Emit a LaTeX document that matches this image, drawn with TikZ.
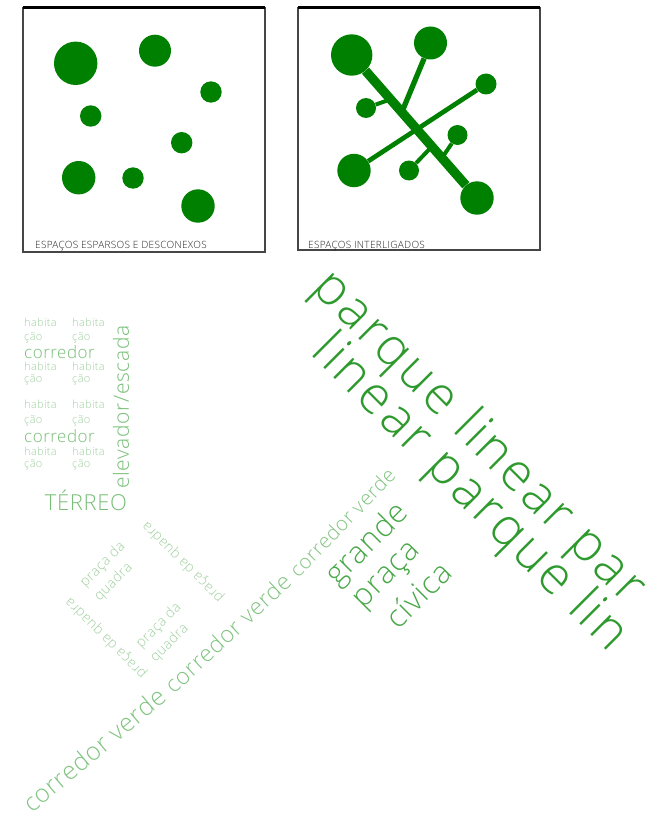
\documentclass[tikz,border=0pt]{standalone}
\usepackage{fontspec}
\IfFontExistsTF{Open Sans Light}
  {\setmainfont{Open Sans Light}[LetterSpace=3]}
  {\setmainfont{Open Sans}[LetterSpace=3]}
\usetikzlibrary{calc}

\definecolor{blobgreen}{RGB}{0,128,0}
\definecolor{parkgreen}{RGB}{46,154,46}
\definecolor{civicgreen}{RGB}{72,168,72}
\definecolor{pathgreen}{RGB}{128,196,128}
\definecolor{stackgreen}{RGB}{120,190,120}
\definecolor{habgreen}{RGB}{160,208,160}
\definecolor{framegray}{RGB}{70,70,70}

% font size given in pixels of the reference
\newcommand\pxfont[2]{\fontsize{\fpeval{0.8536*#1}pt}{\fpeval{0.8536*#2}pt}\selectfont}

\begin{document}
\begin{tikzpicture}[
    x=0.03cm, y=-0.03cm,
    blob/.style={circle, fill=blobgreen, inner sep=0pt, minimum size=#1*0.06cm},
    link/.style={draw=blobgreen, line width=#1},
    frame/.style={draw=framegray, line width=1.4pt},
    caption/.style={anchor=base west, inner sep=0pt, text=black!85, font=\pxfont{10}{12}},
    word/.style={inner sep=0pt, text=#1}
]
\useasboundingbox (0,0) rectangle (667,817);
\fill[white] (0,0) rectangle (667,817);

% two boxes
\draw[frame] (22.7,7.5) rectangle (265,252);
\draw[line width=2.5pt] (22.7,7.5) -- (265,7.5);
\draw[frame] (298,7.5) rectangle (540,250);
\draw[line width=2.5pt] (298,7.5) -- (540,7.5);

% sparse spaces
\node[blob=21.7] (s1) at (75.7,63.3) {};
\node[blob=16]   (s2) at (155,50.7) {};
\node[blob=10.7] (s3) at (211,92) {};
\node[blob=10.7] (s4) at (90.7,116) {};
\node[blob=10.7] (s5) at (181.7,142.7) {};
\node[blob=16.7] (s6) at (78.7,177.7) {};
\node[blob=10.7] (s7) at (133,178) {};
\node[blob=16.7] (s8) at (198,206) {};
\node[caption] (capL) at (35,248) {ESPAÇOS ESPARSOS E DESCONEXOS};

% linked spaces
\node[blob=20.7] (cA) at (351.7,55) {};
\node[blob=16.5] (cB) at (430.5,43) {};
\node[blob=10.5] (cC) at (486,84) {};
\node[blob=10]   (cD) at (366,108) {};
\node[blob=10]   (cE) at (457.5,135) {};
\node[blob=16.7] (cF) at (354,170.5) {};
\node[blob=10]   (cG) at (409,170.5) {};
\node[blob=16.7] (cH) at (477,198) {};
\coordinate (jB) at ($(cA)!0.40!(cH)$);
\coordinate (jD) at ($(cA)!0.31!(cH)$);
\coordinate (jG) at ($(cA)!0.64!(cH)$);
\coordinate (jE) at ($(cA)!0.72!(cH)$);
\draw[link=8pt] (cA) -- (cH);
\draw[link=4.5pt] (cB) -- (jB);
\draw[link=4pt] (cF) -- (cC);
\draw[link=3.4pt] (cD) -- (jD);
\draw[link=3.4pt] (cG) -- (jG);
\draw[link=3.4pt] (cE) -- (jE);
\node[caption] (capR) at (308,248) {ESPAÇOS INTERLIGADOS};

% building section
\foreach \r/\y in {1/322,2/366,3/404,4/451} {
  \node[word=habgreen, anchor=base west, font=\pxfont{11}{13}] (habA\r) at (24,\y+4) {habita};
  \node[word=habgreen, anchor=base west, font=\pxfont{11}{13}] (habB\r) at (72,\y+4) {habita};
}
\foreach \r/\y in {1/337,2/379,3/420,4/464} {
  \node[word=habgreen, anchor=base west, font=\pxfont{11}{13}] (caoA\r) at (24,\y+3) {ção};
  \node[word=habgreen, anchor=base west, font=\pxfont{11}{13}] (caoB\r) at (72,\y+3) {ção};
}
\node[word=stackgreen, anchor=base west, font=\pxfont{17}{20}] (cor1) at (24,358) {corredor};
\node[word=stackgreen, anchor=base west, font=\pxfont{17}{20}] (cor2) at (24,442) {corredor};
\node[word=stackgreen, rotate=90, font=\pxfont{21}{24}] (elev) at (121,407) {elevador/escada};
\node[word=stackgreen, font=\pxfont{22}{26}] (terreo) at (86,500) {TÉRREO};

% block squares
\node[word=habgreen, rotate=45, align=left, font=\pxfont{14}{20}] (pq1) at (110,572) {praça da\\quadra};
\node[word=habgreen, rotate=45, align=left, font=\pxfont{14}{20}] (pq2) at (166,633) {praça da\\quadra};
\node[word=habgreen, rotate=135, font=\pxfont{14}{18}] (pq3) at (183,562) {praça da quadra};
\node[word=habgreen, rotate=135, font=\pxfont{14}{18}] (pq4) at (106,638) {praça da quadra};

% green corridor
\node[word=pathgreen, rotate=40, anchor=base west, font=\pxfont{25}{30}] (cv1) at (32,814) {corredor verde\kern0.3em};
\node[word=pathgreen, rotate=43, anchor=base west, font=\pxfont{23}{28}] (cv2) at (cv1.base east) {corredor verde\kern0.3em};
\node[word=pathgreen, rotate=46, anchor=base west, font=\pxfont{20}{24}] (cv3) at (cv2.base east) {corredor verde};

% civic square
\node[word=civicgreen, rotate=45, font=\pxfont{31}{36}] (grande) at (368,545) {grande};
\node[word=civicgreen, rotate=45, font=\pxfont{31}{36}] (praca) at (389,577) {praça};
\node[word=civicgreen, rotate=45, font=\pxfont{31}{36}] (civica) at (418,594) {cívica};

% linear park
\node[word=parkgreen, rotate=-45, font=\pxfont{52}{60}\addfontfeatures{LetterSpace=6}] (park1) at (478,438) {parque linear par};
\node[word=parkgreen, rotate=-45, font=\pxfont{52}{60}\addfontfeatures{LetterSpace=6}] (park2) at (469,494) {linear parque lin};
\end{tikzpicture}
\end{document}
